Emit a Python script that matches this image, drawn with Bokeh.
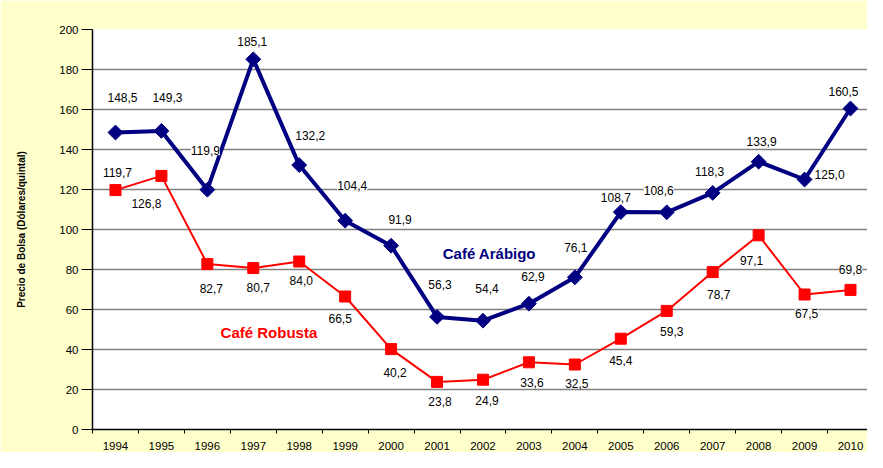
import numpy as np
from bokeh.plotting import figure
from bokeh.models import ColumnDataSource, LabelSet, Label, FixedTicker, Range1d
from bokeh.core.properties import value
from bokeh.embed import file_html
from bokeh.resources import INLINE

# ---- data ----
years = list(range(1994, 2011))
arabigo = [148.5, 149.3, 119.9, 185.1, 132.2, 104.4, 91.9, 56.3, 54.4, 62.9,
           76.1, 108.7, 108.6, 118.3, 133.9, 125.0, 160.5]
robusta = [119.7, 126.8, 82.7, 80.7, 84.0, 66.5, 40.2, 23.8, 24.9, 33.6,
           32.5, 45.4, 59.3, 78.7, 97.1, 67.5, 69.8]
y_ticks = list(range(0, 201, 20))
series_names = ["Café Arábigo", "Café Robusta"]

# label placement offsets in pixels (right, up)
arab_dx = [7, 6, -2, -1, 11, 7, 9, 3, 4, 4, 1, -5, -8, -3, 3, 25, -7]
arab_dy = [35, 33, 39, 18, 30, 35, 26, 32, 32, 27, 30, 15, 22, 21, 20, 5, 17]
rob_dx = [2, -15, 4, 5, 2, -5, 4, 3, 4, 3, 2, 0, 5, 6, -7, 2, 0]
rob_dy = [18, -28, -24, -19, -19, -22, -23, -20, -21, -20, -19, -22, -21, -22, -25, -19, 20]

FONT = "Liberation Sans"
NAVY = "#000080"
RED = "#FF0000"


def fmt(v):
    return f"{v:.1f}".replace(".", ",")


src_a = ColumnDataSource(dict(x=years, y=arabigo, t=[fmt(v) for v in arabigo],
                              dx=arab_dx, dy=arab_dy))
src_r = ColumnDataSource(dict(x=years, y=robusta, t=[fmt(v) for v in robusta],
                              dx=rob_dx, dy=rob_dy))

p = figure(width=867, height=452,
           x_range=Range1d(1993.5, 2010.37), y_range=Range1d(0, 200),
           output_backend="svg", toolbar_location=None,
           min_border_left=92, min_border_right=0,
           min_border_top=29, min_border_bottom=23)
p.border_fill_color = "#FFFFCC"
p.background_fill_color = "white"
p.outline_line_color = None

# grid
p.xgrid.visible = False
p.ygrid.ticker = FixedTicker(ticks=y_ticks)
p.ygrid.grid_line_color = "#808080"
p.ygrid.grid_line_width = 1.5

# y axis
p.yaxis.ticker = FixedTicker(ticks=y_ticks)
p.yaxis.axis_line_color = "black"
p.yaxis.axis_line_width = 1.5
p.yaxis.major_tick_line_color = "black"
p.yaxis.major_tick_out = 11
p.yaxis.major_tick_in = 0
p.yaxis.minor_tick_line_color = None
p.yaxis.major_label_standoff = 3
p.yaxis.major_label_text_font = FONT
p.yaxis.major_label_text_font_size = "11.5px"
p.yaxis.major_label_text_color = "black"
p.yaxis.axis_label = "Precio de Bolsa (Dólares/quintal)"
p.yaxis.axis_label_text_font = FONT
p.yaxis.axis_label_text_font_size = "10px"
p.yaxis.axis_label_text_font_style = "bold"
p.yaxis.axis_label_text_color = "black"
p.yaxis.axis_label_standoff = 29

# x axis
p.xaxis.ticker = FixedTicker(ticks=years, minor_ticks=[y + 0.5 for y in range(1993, 2011)])
p.xaxis.axis_line_color = "black"
p.xaxis.axis_line_width = 1.5
p.xaxis.major_tick_out = 0
p.xaxis.major_tick_in = 0
p.xaxis.minor_tick_out = 4
p.xaxis.minor_tick_in = 0
p.xaxis.minor_tick_line_color = "black"
p.xaxis.major_label_standoff = 8
p.xaxis.major_label_text_font = FONT
p.xaxis.major_label_text_font_size = "11.5px"
p.xaxis.major_label_text_color = "black"

# series
p.line("x", "y", source=src_r, line_color=RED, line_width=2)
p.scatter("x", "y", source=src_r, marker="square", size=11,
          fill_color=RED, line_color=RED)
p.line("x", "y", source=src_a, line_color=NAVY, line_width=4)
p.scatter("x", "y", source=src_a, marker="square", angle=np.pi / 4, size=10.5,
          fill_color=NAVY, line_color=NAVY)

for src in (src_a, src_r):
    p.add_layout(LabelSet(x="x", y="y", text="t", x_offset="dx", y_offset="dy",
                          source=src, text_align="center", text_baseline="middle",
                          text_font=value(FONT), text_font_size="12px",
                          text_color="black", background_fill_color="white"))

p.add_layout(Label(x=2002.14, y=88, text=series_names[0], text_align="center",
                   text_baseline="middle", text_font=FONT, text_font_size="15px",
                   text_font_style="bold", text_color=NAVY))
p.add_layout(Label(x=1997.34, y=48.4, text=series_names[1], text_align="center",
                   text_baseline="middle", text_font=FONT, text_font_size="15px",
                   text_font_style="bold", text_color=RED))

open("out.html", "w").write(file_html(p, INLINE))
